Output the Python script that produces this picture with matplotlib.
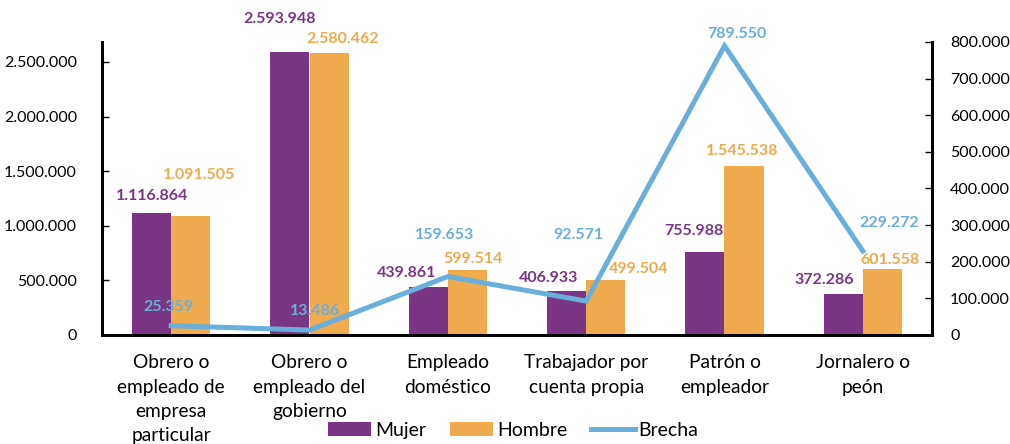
import matplotlib
matplotlib.use("Agg")
import matplotlib.pyplot as plt
import numpy as np

plt.rcParams['font.family'] = ['Lato', 'DejaVu Sans']

categorias = ["Obrero o\nempleado de\nempresa\nparticular",
              "Obrero o\nempleado del\ngobierno",
              "Empleado\ndoméstico",
              "Trabajador por\ncuenta propia",
              "Patrón o\nempleador",
              "Jornalero o\npeón"]
mujer = [1116864, 2593948, 439861, 406933, 755988, 372286]
hombre = [1091505, 2580462, 599514, 499504, 1545538, 601558]
brecha = [25359, 13486, 159653, 92571, 789550, 229272]

izq_ticks = [0, 500000, 1000000, 1500000, 2000000, 2500000]
der_ticks = [0, 100000, 200000, 300000, 400000, 500000, 600000, 700000, 800000]

c_muj = "#7B3585"
c_hom = "#EEAA4D"
c_bre = "#6AAEDB"

def fmt(v):
    return f"{v:,}".replace(",", ".")

# desplazamientos de etiquetas (pixeles)
off_muj = [(0, 17), (-10, 33), (-22, 14), (-18, 13), (-11, 21), (-19, 14)]
off_hom = [(8, 41), (14, 14), (6, 11), (33, 11), (-2, 15), (8, 9)]
off_bre = [(-3, 19), (6, 19), (-3, 42), (-8, 66), (12, 12), (26, 28)]

fig = plt.figure(figsize=(10.1, 4.44), dpi=100)
ax = fig.add_axes([102/1010, 1-335/444, 830/1010, 293/444])
ax2 = ax.twinx()

x = np.arange(len(categorias))
w = 0.282
b1 = ax.bar(x - w/2, mujer, w, color=c_muj, label="Mujer", zorder=2)
b2 = ax.bar(x + w/2, hombre, w, color=c_hom, label="Hombre", zorder=2)
ln, = ax2.plot(x, brecha, color=c_bre, lw=3.6, label="Brecha", solid_joinstyle="miter")

ax.set_xlim(-0.5, len(categorias) - 0.5)
ax.set_ylim(0, 2683000)
ax2.set_ylim(0, 800000)

ax.set_yticks(izq_ticks)
ax.set_yticklabels([fmt(t) for t in izq_ticks], fontsize=11.5)
ax2.set_yticks(der_ticks)
ax2.set_yticklabels([fmt(t) for t in der_ticks], fontsize=11.5)
ax.set_xticks(x)
ax.set_xticklabels(categorias, fontsize=13.8, linespacing=1.52)
ax.tick_params(axis='x', length=0, pad=14)
ax.tick_params(axis='y', direction='in', length=5, width=1, pad=18)
ax2.tick_params(axis='y', direction='in', length=5, width=1, pad=13)

for a in (ax, ax2):
    a.spines['top'].set_visible(False)
    for s in ('left', 'right', 'bottom'):
        a.spines[s].set_linewidth(2)
        a.spines[s].set_color('black')

for i in range(len(categorias)):
    ax.annotate(fmt(mujer[i]), (x[i] - w/2, mujer[i]), xytext=off_muj[i],
                textcoords='offset pixels', ha='center', va='center',
                color=c_muj, fontsize=11.5, fontweight='bold')
    ax.annotate(fmt(hombre[i]), (x[i] + w/2, hombre[i]), xytext=off_hom[i],
                textcoords='offset pixels', ha='center', va='center',
                color=c_hom, fontsize=11.5, fontweight='bold')
    ax2.annotate(fmt(brecha[i]), (x[i], brecha[i]), xytext=off_bre[i],
                 textcoords='offset pixels', ha='center', va='center',
                 color=c_bre, fontsize=11.5, fontweight='bold')

fig.legend([b1, b2, ln], ["Mujer", "Hombre", "Brecha"], loc='center',
           bbox_to_anchor=(0.508, 1-430/444), ncol=3, frameon=False,
           fontsize=14, handlelength=2.25, handleheight=0.7,
           columnspacing=1.2, handletextpad=0.2, borderpad=0)

fig.savefig("out.png", dpi=100)
